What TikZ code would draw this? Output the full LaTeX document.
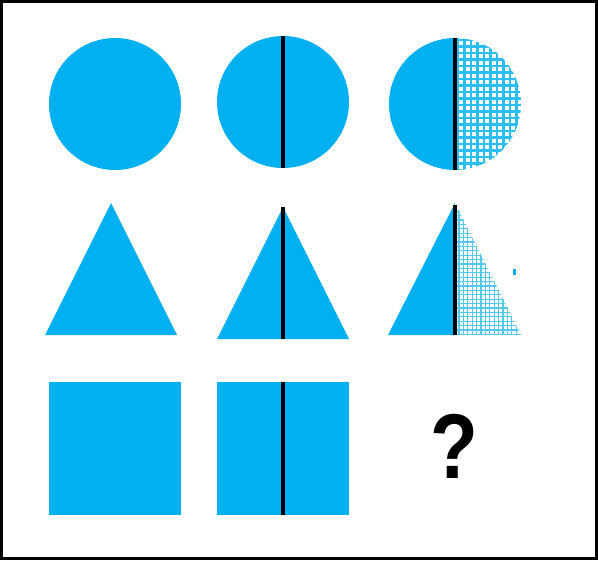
\documentclass[tikz,border=0pt]{standalone}
\usepackage{fontspec}
\setmainfont{Liberation Sans}
\definecolor{fillblue}{HTML}{00B0F0}
\definecolor{gridblue}{HTML}{2CBDF2}
\definecolor{gridlight}{HTML}{55C8F0}
\begin{document}
\begin{tikzpicture}[x=1pt,y=-1pt,
  divider/.style={line width=3.2pt,black},
  coarsegrid/.style={gridblue,line width=2.3pt},
  finegrid/.style={gridlight,line width=1.1pt}]
\useasboundingbox (0,0) rectangle (598,562);
\draw[line width=3pt] (1.5,1.5) rectangle (596.5,558.5);
% row 1 circles
\fill[fillblue] (115,104) circle (66);
\fill[fillblue] (283,102) circle (66);
\draw[divider] (283,36) -- (283,168);
\begin{scope}
\clip (380,30) rectangle (455,180);
\fill[fillblue] (455,104) circle (66);
\end{scope}
\begin{scope}
\clip (455,30) rectangle (530,180);
\clip (455,104) circle (66);
\foreach \i in {0,...,11} {\draw[coarsegrid] (458+\i*6.5,30) -- (458+\i*6.5,180);}
\foreach \j in {0,...,22} {\draw[coarsegrid] (450,40+\j*6.5) -- (530,40+\j*6.5);}
\end{scope}
\draw[divider] (455,38) -- (455,170);
% row 2 triangles
\fill[fillblue] (111,203) -- (177,335) -- (45,335) -- cycle;
\fill[fillblue] (283,207) -- (349,339) -- (217,339) -- cycle;
\draw[divider] (283,207) -- (283,339);
\fill[fillblue] (455,203) -- (455,335) -- (388,335) -- cycle;
\begin{scope}
\clip (455,203) -- (521,335) -- (455,335) -- cycle;
\foreach \i in {0,...,16} {\draw[finegrid] (459+\i*4.4,200) -- (459+\i*4.4,340);}
\foreach \j in {0,...,32} {\draw[finegrid] (450,198+\j*4.4) -- (530,198+\j*4.4);}
\end{scope}
\draw[divider] (455,205) -- (455,335);
\fill[fillblue] (513,269) rectangle (515.5,275);
% row 3 squares
\fill[fillblue] (49,382) rectangle (181,515);
\fill[fillblue] (217,382) rectangle (349,515);
\draw[divider] (283,382) -- (283,515);
\node[inner sep=0pt,xscale=0.85] (q) at (454,446) {\fontsize{92}{92}\selectfont\bfseries ?};
\end{tikzpicture}
\end{document}
